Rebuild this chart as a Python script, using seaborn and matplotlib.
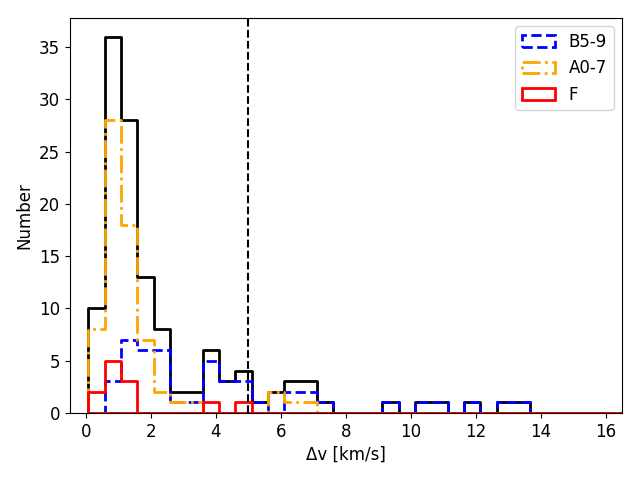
import numpy as np
import seaborn as sns
import matplotlib.pyplot as plt
from matplotlib.patches import Patch

# bin layout
bin_start = 0.07
bin_width = 0.503
n_bins = 33

# counts per bin
total_counts = [10, 36, 28, 13, 8, 2, 2, 6, 3, 4, 1, 2, 3, 3, 1, 0, 0, 0, 1, 0, 1, 1, 0, 1, 0, 1, 1, 0, 0, 0, 0, 0, 0]
b59_counts = [0, 3, 7, 6, 6, 1, 1, 5, 3, 3, 1, 0, 2, 2, 1, 0, 0, 0, 1, 0, 1, 1, 0, 1, 0, 1, 1, 0, 0, 0, 0, 0, 0]
a07_counts = [8, 28, 18, 7, 2, 1, 1, 0, 0, 0, 0, 2, 1, 1, 0, 0, 0, 0, 0, 0, 0, 0, 0, 0, 0, 0, 0, 0, 0, 0, 0, 0, 0]
f_counts = [2, 5, 3, 0, 0, 0, 0, 1, 0, 1, 0, 0, 0, 0, 0, 0, 0, 0, 0, 0, 0, 0, 0, 0, 0, 0, 0, 0, 0, 0, 0, 0, 0]

edges = bin_start + bin_width * np.arange(n_bins + 1)
centers = 0.5 * (edges[:-1] + edges[1:])

plt.rcParams['font.size'] = 12

fig, ax = plt.subplots(figsize=(6.4, 4.8), dpi=100)

series = [
    (total_counts, 'black', '-', None),
    (b59_counts, 'blue', '--', 'B5-9'),
    (a07_counts, 'orange', '-.', 'A0-7'),
    (f_counts, 'red', '-', 'F'),
]

handles = []
for counts, col, ls, name in series:
    sns.histplot(x=centers, weights=counts, bins=list(edges), element='step', color=col,
                 facecolor='none', edgecolor=col, linestyle=ls, linewidth=2, ax=ax)
    if name is not None:
        handles.append(Patch(facecolor='none', edgecolor=col, linestyle=ls, linewidth=2, label=name))

ax.axvline(5, color='black', linestyle='--', linewidth=1.5)

ax.set_xlim(-0.5, 16.5)
ax.set_ylim(0, 37.8)
ax.set_xlabel('Δv [km/s]')
ax.set_ylabel('Number')
ax.legend(handles=handles, loc='upper right')

fig.subplots_adjust(left=0.109, right=0.972, top=0.9625, bottom=0.14)
plt.savefig('out.png')
